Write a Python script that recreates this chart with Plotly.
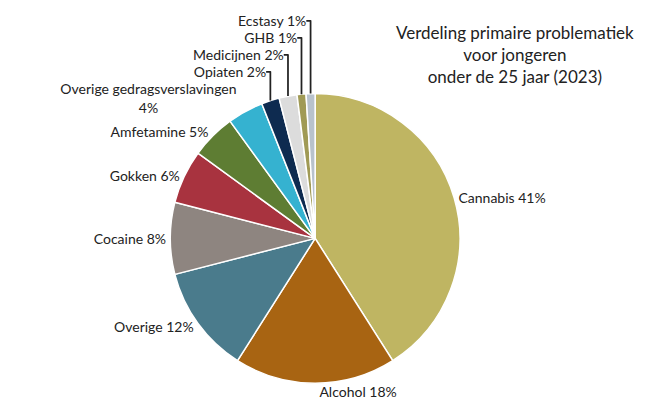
import plotly.graph_objects as go

labels = ["Cannabis", "Alcohol", "Overige", "Cocaine", "Gokken", "Amfetamine",
          "Overige gedragsverslavingen", "Opiaten", "Medicijnen", "GHB", "Ecstasy"]
values = [41, 18, 12, 8, 6, 5, 4, 2, 2, 1, 1]
colors = ["#BFB562", "#A86412", "#4A7B8C", "#8E8580", "#A8333F", "#5E7D33",
          "#35B2D0", "#0E2B50", "#DCDCDC", "#A09A55", "#B8C2CC"]

texts = [f"{l}<br>{v}%" if len(l) > 20 else f"{l} {v}%" for l, v in zip(labels, values)]

fig = go.Figure(go.Pie(
    labels=labels, values=values, text=texts, textinfo="text",
    textposition="outside", sort=False, direction="clockwise", rotation=0,
    marker=dict(colors=colors, line=dict(color="white", width=1.5)),
    textfont=dict(family="Lato", size=14, color="#222"),
    domain=dict(x=[0.245, 0.70], y=[0.10, 0.81]),
    showlegend=False,
))
fig.add_annotation(text="Verdeling primaire problematiek<br>voor jongeren<br>onder de 25 jaar (2023)",
                   x=0.78, y=0.99, xref="paper", yref="paper", showarrow=False,
                   xanchor="center", yanchor="top",
                   font=dict(family="Lato", size=17, color="#222"))
fig.update_layout(width=650, height=416, margin=dict(l=0, r=0, t=0, b=0),
                  paper_bgcolor="white", plot_bgcolor="white")
fig.write_html("out.html")
